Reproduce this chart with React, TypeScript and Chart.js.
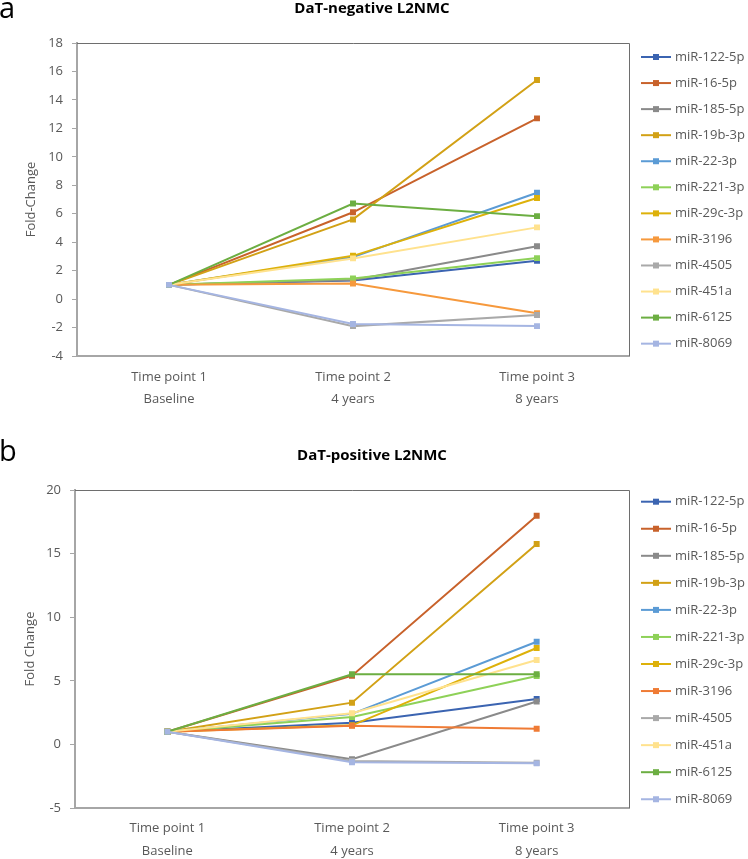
import { useEffect, useRef } from 'react';
import { Chart, registerables } from 'chart.js';

Chart.register(...registerables);

const timePoints = ['Time point 1', 'Time point 2', 'Time point 3'];
const periods = ['Baseline', '4 years', '8 years'];

const mirNames = [
  'miR-122-5p', 'miR-16-5p', 'miR-185-5p', 'miR-19b-3p', 'miR-22-3p', 'miR-221-3p',
  'miR-29c-3p', 'miR-3196', 'miR-4505', 'miR-451a', 'miR-6125', 'miR-8069',
];

const colorsNeg = [
  '#3B64B1', '#C8622B', '#8A8A8A', '#D2A116', '#5B9BD5', '#8ED158',
  '#DDB10A', '#F6993D', '#A9A9A9', '#FFE28E', '#6CAE42', '#A5B5E2',
];
const colorsPos = [
  '#3B64B1', '#C8622B', '#8A8A8A', '#D2A116', '#5B9BD5', '#8ED158',
  '#DDB10A', '#EF7B35', '#A9A9A9', '#FFE28E', '#6CAE42', '#A5B5E2',
];

// Panel a: DaT-negative L2NMC (fold-change at Baseline, 4 years, 8 years)
const neg122 = [1, 1.3, 2.7];
const neg16 = [1, 6.1, 12.7];
const neg185 = [1, 1.35, 3.72];
const neg19b = [1, 5.6, 15.4];
const neg22 = [1, 2.95, 7.47];
const neg221 = [1, 1.45, 2.88];
const neg29c = [1, 3.04, 7.1];
const neg3196 = [1, 1.1, -1.0];
const neg4505 = [1, -1.9, -1.12];
const neg451a = [1, 2.86, 5.04];
const neg6125 = [1, 6.72, 5.83];
const neg8069 = [1, -1.75, -1.9];

// Panel b: DaT-positive L2NMC
const pos122 = [1, 1.7, 3.57];
const pos16 = [1, 5.4, 17.98];
const pos185 = [1, -1.17, 3.37];
const pos19b = [1, 3.28, 15.75];
const pos22 = [1, 2.4, 8.07];
const pos221 = [1, 2.15, 5.38];
const pos29c = [1, 1.5, 7.58];
const pos3196 = [1, 1.47, 1.23];
const pos4505 = [1, -1.3, -1.45];
const pos451a = [1, 2.45, 6.64];
const pos6125 = [1, 5.51, 5.51];
const pos8069 = [1, -1.41, -1.49];

const negSeries = [neg122, neg16, neg185, neg19b, neg22, neg221, neg29c, neg3196, neg4505, neg451a, neg6125, neg8069];
const posSeries = [pos122, pos16, pos185, pos19b, pos22, pos221, pos29c, pos3196, pos4505, pos451a, pos6125, pos8069];

const FONT = "'Open Sans', sans-serif";
const TEXT = '#595959';
const AXIS = '#A6A6A6';
const W = 748;

type Panel = {
  letter: string;
  letterY: number;
  title: string;
  yTitle: string;
  H: number;
  plotLeft: number;
  plotRight: number;
  plotTop: number;
  plotBottom: number;
  titleY: number;
  yTitleX: number;
  legendTop: number;
  legendGap: number;
  min: number;
  max: number;
  step: number;
  xPad: number;
  xLine: string;
  series: number[][];
  colors: string[];
};

const panelA: Panel = {
  letter: 'a', letterY: 18, title: 'DaT-negative L2NMC', yTitle: 'Fold-Change', H: 420,
  plotLeft: 77, plotRight: 629, plotTop: 43, plotBottom: 356, titleY: 9, yTitleX: 31,
  legendTop: 57, legendGap: 26.06, min: -4, max: 18, step: 2, xPad: 10, xLine: '22px',
  series: negSeries, colors: colorsNeg,
};

const panelB: Panel = {
  letter: 'b', letterY: 41, title: 'DaT-positive L2NMC', yTitle: 'Fold Change', H: 439,
  plotLeft: 75, plotRight: 629, plotTop: 70, plotBottom: 388, titleY: 36, yTitleX: 30,
  legendTop: 81.7, legendGap: 27.05, min: -5, max: 20, step: 5, xPad: 9, xLine: '23px',
  series: posSeries, colors: colorsPos,
};

function decor(p: Panel) {
  return {
    id: 'decor',
    afterDraw(chart: any) {
      const ctx = chart.ctx as CanvasRenderingContext2D;
      const a = chart.chartArea;
      ctx.save();
      // plot border top/right
      ctx.strokeStyle = '#6E6E6E';
      ctx.lineWidth = 1;
      ctx.beginPath();
      ctx.moveTo(a.left, Math.round(a.top) + 0.5);
      ctx.lineTo(Math.round(a.right) + 0.5, Math.round(a.top) + 0.5);
      ctx.lineTo(Math.round(a.right) + 0.5, a.bottom);
      ctx.stroke();
      // panel letter
      ctx.fillStyle = '#000';
      ctx.font = `29px ${FONT}`;
      ctx.textAlign = 'left';
      ctx.textBaseline = 'alphabetic';
      ctx.fillText(p.letter, -1, p.letterY);
      // title
      ctx.font = `bold 15px ${FONT}`;
      ctx.textAlign = 'center';
      ctx.textBaseline = 'middle';
      ctx.fillText(p.title, 372, p.titleY);
      // y axis title
      ctx.save();
      ctx.translate(p.yTitleX, (a.top + a.bottom) / 2);
      ctx.rotate(-Math.PI / 2);
      ctx.fillStyle = TEXT;
      ctx.font = `13px ${FONT}`;
      ctx.fillText(p.yTitle, 0, 0);
      ctx.restore();
      // legend
      chart.data.datasets.forEach((ds: any, i: number) => {
        const y = p.legendTop + i * p.legendGap;
        ctx.strokeStyle = ds.borderColor;
        ctx.lineWidth = 2;
        ctx.beginPath();
        ctx.moveTo(641, y);
        ctx.lineTo(671, y);
        ctx.stroke();
        ctx.fillStyle = ds.borderColor;
        ctx.fillRect(656 - 3, y - 3, 6, 6);
        ctx.fillStyle = TEXT;
        ctx.font = `13px ${FONT}`;
        ctx.textAlign = 'left';
        ctx.textBaseline = 'middle';
        ctx.fillText(ds.label, 675, y);
      });
      ctx.restore();
    },
  };
}

function ChartPanel({ p, top }: { p: Panel; top: number }) {
  const ref = useRef<HTMLCanvasElement>(null);
  useEffect(() => {
    if (!ref.current) return;
    const datasets = mirNames.map((name, i) => ({
      label: name,
      data: p.series[i],
      borderColor: p.colors[i],
      backgroundColor: p.colors[i],
      borderWidth: 2,
      pointStyle: 'rect' as const,
      pointRadius: 4.2,
      pointBorderWidth: 0,
      pointHoverRadius: 4.2,
      tension: 0,
      order: -i,
    }));
    const chart = new Chart(ref.current, {
      type: 'line',
      data: {
        labels: timePoints.map((t, i) => [t, periods[i]]),
        datasets,
      },
      options: {
        responsive: false,
        animation: false,
        layout: { padding: { top: p.plotTop, right: W - p.plotRight, left: 0, bottom: 0 } },
        plugins: {
          legend: { display: false },
          tooltip: { enabled: false },
          title: { display: false },
        },
        scales: {
          x: {
            offset: true,
            grid: { drawOnChartArea: false, drawTicks: false },
            border: { display: true, color: AXIS, width: 2 },
            ticks: {
              color: TEXT,
              font: { family: FONT, size: 13, lineHeight: p.xLine },
              padding: p.xPad,
              maxRotation: 0,
              autoSkip: false,
            },
            afterFit: (s: any) => {
              s.height = p.H - p.plotBottom;
            },
          },
          y: {
            min: p.min,
            max: p.max,
            ticks: {
              stepSize: p.step,
              color: TEXT,
              font: { family: FONT, size: 13 },
              padding: 9,
            },
            grid: { drawOnChartArea: false, drawTicks: true, tickLength: 5, color: AXIS },
            border: { display: true, color: AXIS, width: 2 },
            afterFit: (s: any) => {
              s.width = p.plotLeft;
            },
          },
        },
      },
      plugins: [decor(p)],
    });
    return () => chart.destroy();
  }, [p]);
  return (
    <canvas
      ref={ref}
      width={W}
      height={p.H}
      style={{ position: 'absolute', left: 0, top, width: W, height: p.H }}
    />
  );
}

export default function App() {
  return (
    <div style={{ position: 'fixed', left: 0, top: 0, width: W, height: 859, background: '#fff' }}>
      <ChartPanel p={panelA} top={0} />
      <ChartPanel p={panelB} top={420} />
    </div>
  );
}
